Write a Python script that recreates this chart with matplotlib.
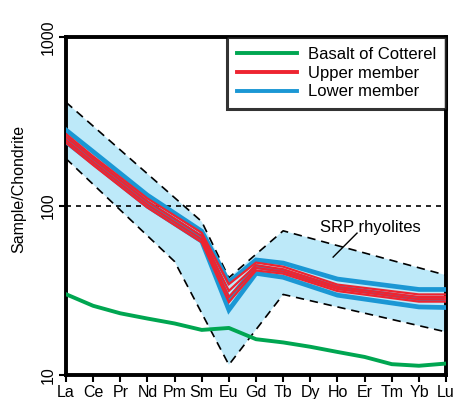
import numpy as np
import matplotlib
matplotlib.use("Agg")
import matplotlib.pyplot as plt

plt.rcParams['font.family'] = ['Liberation Sans', 'DejaVu Sans']

# REE order on the x axis
elements = ['La', 'Ce', 'Pr', 'Nd', 'Pm', 'Sm', 'Eu', 'Gd', 'Tb', 'Dy', 'Ho', 'Er', 'Tm', 'Yb', 'Lu']

# SRP rhyolite envelope (upper / lower dashed bounds)
env_upper_el = ['La', 'Sm', 'Eu', 'Tb', 'Lu']
env_upper = [412, 81, 37.7, 71.4, 39]
env_lower_el = ['La', 'Pm', 'Eu', 'Tb', 'Lu']
env_lower = [191, 47, 11.5, 30, 18]

# Basalt of Cotterel
basalt_el = elements
basalt = [30.1, 25.7, 23.2, 21.6, 20.2, 18.5, 19.0, 16.3, 15.6, 14.7, 13.7, 12.8, 11.6, 11.35, 11.7]

# rhyolite samples
sample_el = ['La', 'Ce', 'Nd', 'Sm', 'Eu', 'Gd', 'Tb', 'Ho', 'Yb', 'Lu']
lower_member = [
    [282, 210, 116, 71, 35.5, 48, 46, 37, 32.1, 32.1],
    [255, 190, 105, 65, 28, 44, 41, 33, 28.3, 28.3],
    [240, 180, 100, 62, 24.3, 40, 37.9, 29.7, 25.3, 25.1],
]
upper_member = [
    [267, 197, 111, 69.5, 34.5, 46.3, 43.8, 34.3, 30.0, 30.0],
    [257, 190, 106.5, 66.5, 31.5, 44.6, 42.3, 33.2, 29.0, 29.0],
    [246, 182, 102, 63.5, 29, 43, 41, 32.3, 28.1, 28.1],
    [237, 175, 98, 61, 27.0, 41.6, 39.8, 31.4, 27.2, 27.2],
]

xpos = {e: i for i, e in enumerate(elements)}

fig = plt.figure(figsize=(4.58, 3.99), dpi=100)
ax = fig.add_axes([0.144, 0.060, 0.830, 0.847])
ax.set_yscale('log')

ux = [xpos[e] for e in env_upper_el]
lx = [xpos[e] for e in env_lower_el]
ax.fill(ux + lx[::-1], env_upper + env_lower[::-1], color='#bde9f9', lw=0, zorder=1)
ax.plot(ux, env_upper, color='black', lw=1.2, ls=(0, (5, 3.5)), zorder=2)
ax.plot(lx, env_lower, color='black', lw=1.2, ls=(0, (5, 3.5)), zorder=2)

ax.axhline(100, color='black', lw=1.2, ls=(0, (3, 3)), zorder=2)

sx = [xpos[e] for e in sample_el]
for i, s in enumerate(lower_member):
    ax.plot(sx, s, color='#1b97d4', lw=3.4, solid_joinstyle='miter', zorder=3,
            label='Lower member' if i == 0 else None)
for i, s in enumerate(upper_member):
    ax.plot(sx, s, color='#ee2430', lw=1.6, solid_joinstyle='miter', zorder=4,
            label='Upper member' if i == 0 else None)

ax.plot([xpos[e] for e in basalt_el], basalt, color='#00a651', lw=2.8, zorder=3,
        label='Basalt of Cotterel')

ax.text(11.2, 75, 'SRP rhyolites', fontsize=12, ha='center', va='center', zorder=5)
ax.plot([10.72, 9.84], [69.2, 49.9], color='black', lw=1.0, zorder=5)

ax.set_xlim(0, len(elements) - 1)
ax.set_ylim(10, 1000)
ax.set_xticks(range(len(elements)))
ax.set_xticklabels(elements, fontsize=11.5)
ax.set_yticks([10, 100, 1000])
ax.set_yticklabels(['10', '100', '1000'], fontsize=11.5, rotation=90, va='center')
ax.yaxis.set_minor_locator(matplotlib.ticker.NullLocator())
ax.tick_params(axis='both', which='major', direction='out', length=5, width=1.5, pad=2)
ax.set_ylabel('Sample/Chondrite', fontsize=11.5)
ax.yaxis.set_label_coords(-0.104, 0.55)
for sp in ax.spines.values():
    sp.set_linewidth(2.8)

handles, labels = ax.get_legend_handles_labels()
order = ['Basalt of Cotterel', 'Upper member', 'Lower member']
hmap = dict(zip(labels, handles))
leg = ax.legend([hmap[k] for k in order], order, loc='upper right', fontsize=12,
                frameon=True, fancybox=False, borderaxespad=0, handlelength=3.6,
                handletextpad=0.65, labelspacing=0.22, borderpad=0.6)
leg.get_frame().set_edgecolor('black')
leg.get_frame().set_linewidth(2.2)
for line in leg.get_lines():
    line.set_linewidth(2.8)

fig.savefig('out.png', dpi=100)
